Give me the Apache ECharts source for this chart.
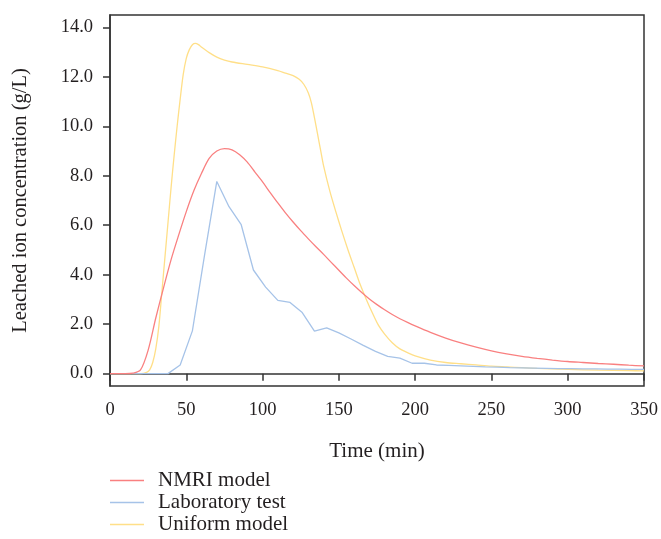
<!DOCTYPE html>
<html>
<head>
<meta charset="utf-8">
<script src="https://cdn.jsdelivr.net/npm/echarts@6/dist/echarts.min.js"></script>
<style>
html,body{margin:0;padding:0;background:#fff;}
#chart{width:661px;height:539px;}
</style>
</head>
<body>
<div id="chart"></div>
<script>
const seriesNames = ['NMRI model', 'Laboratory test', 'Uniform model'];
const yTickValues = [0, 2, 4, 6, 8, 10, 12, 14];

const nmriTime = [0, 10, 15, 20, 25, 30, 35, 40, 45, 50, 55, 60, 65, 70, 75, 80, 85, 90, 95, 100, 105, 110, 115, 120, 125, 130, 135, 140, 145, 150, 155, 160, 165, 170, 175, 180, 185, 190, 195, 200, 210, 220, 230, 240, 250, 260, 270, 280, 290, 300, 310, 320, 330, 340, 350];
const nmriConc = [0, 0, 0.02, 0.15, 0.95, 2.25, 3.45, 4.6, 5.6, 6.55, 7.4, 8.1, 8.7, 9.0, 9.1, 9.05, 8.85, 8.55, 8.15, 7.75, 7.32, 6.9, 6.5, 6.13, 5.78, 5.45, 5.13, 4.82, 4.5, 4.18, 3.86, 3.56, 3.28, 3.02, 2.79, 2.58, 2.39, 2.22, 2.07, 1.93, 1.67, 1.44, 1.24, 1.07, 0.92, 0.8, 0.7, 0.62, 0.55, 0.49, 0.45, 0.41, 0.38, 0.34, 0.31];

const labTime = [0, 6, 14, 22, 30, 38, 46, 54, 62, 70, 78, 86, 94, 102, 110, 118, 126, 134, 142, 150, 158, 166, 174, 182, 190, 198, 206, 214, 222, 230, 238, 246, 254, 262, 270, 278, 286, 294, 302, 310, 318, 326, 334, 342, 350];
const labConc = [0, 0, 0, 0, 0, 0, 0.35, 1.73, 4.8, 7.77, 6.75, 6.02, 4.19, 3.5, 2.96, 2.88, 2.47, 1.72, 1.85, 1.65, 1.4, 1.14, 0.9, 0.7, 0.63, 0.42, 0.42, 0.35, 0.33, 0.31, 0.29, 0.27, 0.26, 0.24, 0.23, 0.22, 0.21, 0.2, 0.2, 0.19, 0.19, 0.18, 0.18, 0.17, 0.17];

const uniTime = [0, 10, 20, 24, 26, 28, 30, 32, 34, 36, 38, 40, 42, 44, 46, 48, 50, 52, 54, 56, 58, 60, 65, 70, 75, 80, 90, 100, 110, 115, 120, 124, 127, 130, 132, 134, 136, 138, 140, 144, 148, 152, 156, 160, 164, 168, 172, 176, 180, 185, 190, 195, 200, 210, 220, 230, 240, 250, 260, 270, 280, 290, 300, 320, 340, 350];
const uniConc = [0, 0, 0, 0.05, 0.15, 0.45, 1.0, 1.9, 3.3, 4.7, 6.1, 7.5, 8.8, 10.0, 11.1, 12.1, 12.75, 13.1, 13.3, 13.35, 13.3, 13.2, 12.98, 12.8, 12.68, 12.6, 12.5, 12.4, 12.25, 12.15, 12.05, 11.9, 11.7, 11.35, 10.95, 10.35, 9.7, 9.05, 8.4, 7.4, 6.55, 5.75, 5.0, 4.3, 3.6, 3.0, 2.45, 1.95, 1.6, 1.25, 1.0, 0.85, 0.72, 0.55, 0.45, 0.4, 0.35, 0.3, 0.27, 0.24, 0.21, 0.19, 0.17, 0.14, 0.12, 0.11];

function pairs(xs, ys) { return xs.map((x, i) => [x, ys[i]]); }

const FONT = '"Liberation Serif", "DejaVu Serif", serif';
const TXT = '#231f20';
const AX = '#333333';
const COLORS = ['#f98080', '#a6c3e8', '#ffdf88'];

const chart = echarts.init(document.getElementById('chart'), null, {renderer: 'canvas'});
chart.setOption({
  animation: false,
  backgroundColor: '#ffffff',
  color: COLORS,
  textStyle: {fontFamily: FONT, color: TXT},
  grid: {left: 110, right: 17, top: 15, bottom: 153, show: true, borderColor: AX, borderWidth: 1.5, backgroundColor: 'transparent', containLabel: false},
  legend: {
    orient: 'vertical', left: 110, top: 470, padding: 0, height: 69,
    icon: 'rect', itemWidth: 34, itemHeight: 1.5, itemGap: 1,
    data: seriesNames,
    textStyle: {fontFamily: FONT, fontSize: 21, color: TXT, padding: [0, 0, 0, 9]}
  },
  xAxis: {
    type: 'value', min: 0, max: 350, interval: 50,
    name: 'Time (min)', nameLocation: 'middle', nameGap: 55,
    nameTextStyle: {fontFamily: FONT, fontSize: 21, color: TXT},
    axisLine: {show: true, lineStyle: {color: AX, width: 1.5}},
    axisTick: {show: true, inside: false, length: 7, lineStyle: {color: AX, width: 1.5}},
    axisLabel: {fontFamily: FONT, fontSize: 18.5, color: TXT, margin: 15},
    splitLine: {show: false}
  },
  yAxis: {
    type: 'value', min: -0.5, max: 14.5,
    name: 'Leached ion concentration (g/L)', nameLocation: 'middle', nameGap: 79,
    nameTextStyle: {fontFamily: FONT, fontSize: 20.5, color: TXT},
    axisLine: {show: true, lineStyle: {color: AX, width: 1.5}},
    axisTick: {show: true, inside: false, length: 7, customValues: yTickValues, lineStyle: {color: AX, width: 1.5}},
    axisLabel: {fontFamily: FONT, fontSize: 18.5, color: TXT, margin: 17, customValues: yTickValues, formatter: v => v.toFixed(1)},
    splitLine: {show: false}
  },
  series: [
    {name: seriesNames[0], type: 'line', data: pairs(nmriTime, nmriConc), symbol: 'none', smooth: 0.3, lineStyle: {color: COLORS[0], width: 1.3}, itemStyle: {color: COLORS[0]}, z: 3},
    {name: seriesNames[1], type: 'line', data: pairs(labTime, labConc), symbol: 'none', smooth: false, lineStyle: {color: COLORS[1], width: 1.3}, itemStyle: {color: COLORS[1]}, z: 2},
    {name: seriesNames[2], type: 'line', data: pairs(uniTime, uniConc), symbol: 'none', smooth: 0.3, lineStyle: {color: COLORS[2], width: 1.3}, itemStyle: {color: COLORS[2]}, z: 1}
  ]
});
</script>
</body>
</html>
